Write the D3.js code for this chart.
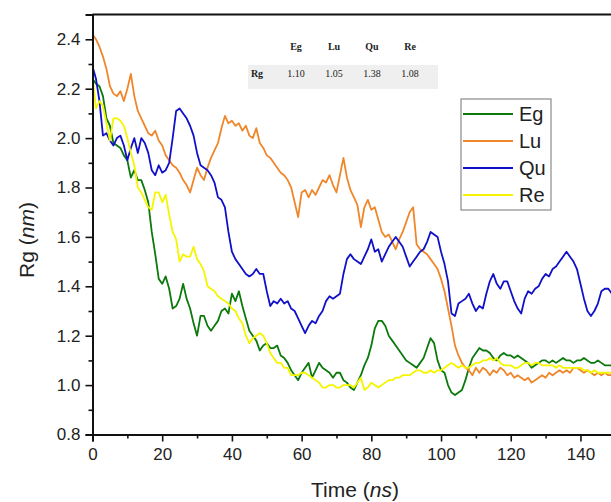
<!DOCTYPE html>
<html><head><meta charset="utf-8">
<script src="https://cdn.jsdelivr.net/npm/d3@7/dist/d3.min.js"></script>
<style>body{margin:0;background:#fff}svg{display:block}</style>
</head><body><svg id="c" width="611" height="502"></svg>
<script>
const seriesNames = ["Eg", "Lu", "Qu", "Re"];
const seriesColors = ["#0b790b", "#f0862a", "#1010c8", "#f5f500"];
const timeNs = d3.range(0, 151, 1);
const eg = [2.24,2.22,2.21,2.17,2.08,2.05,1.98,1.97,1.96,1.93,1.91,1.84,1.87,1.83,1.83,1.79,1.74,1.62,1.53,1.43,
1.41,1.44,1.39,1.31,1.32,1.35,1.41,1.35,1.31,1.25,1.20,1.28,1.28,1.24,1.22,1.24,1.26,1.30,1.31,1.29,
1.37,1.34,1.38,1.32,1.27,1.22,1.20,1.18,1.14,1.16,1.17,1.15,1.15,1.16,1.12,1.11,1.09,1.06,1.04,1.02,
1.05,1.07,1.09,1.03,1.06,1.09,1.07,1.06,1.05,1.03,1.05,1.05,1.02,1.01,0.99,0.98,1.01,1.04,1.08,1.11,
1.16,1.23,1.26,1.26,1.24,1.20,1.18,1.16,1.14,1.12,1.10,1.09,1.08,1.07,1.09,1.11,1.15,1.19,1.17,1.10,
1.06,1.05,1.00,0.97,0.96,0.97,0.98,1.02,1.07,1.11,1.13,1.15,1.14,1.14,1.13,1.11,1.10,1.12,1.13,1.12,
1.12,1.11,1.12,1.11,1.10,1.09,1.07,1.08,1.09,1.10,1.10,1.09,1.10,1.09,1.10,1.11,1.10,1.10,1.09,1.10,
1.10,1.11,1.10,1.09,1.09,1.10,1.09,1.08,1.08,1.08,1.07];
const lu = [2.42,2.40,2.37,2.33,2.28,2.21,2.18,2.17,2.19,2.15,2.20,2.26,2.17,2.11,2.08,2.05,2.02,2.01,2.03,1.99,
1.97,1.93,1.91,1.89,1.88,1.86,1.83,1.81,1.78,1.83,1.88,1.85,1.83,1.88,1.92,1.95,1.98,2.04,2.09,2.06,
2.07,2.05,2.06,2.03,2.05,2.01,2.00,2.04,1.98,1.96,1.93,1.92,1.90,1.88,1.86,1.85,1.83,1.80,1.74,1.68,
1.78,1.79,1.76,1.79,1.77,1.80,1.83,1.82,1.85,1.81,1.78,1.85,1.92,1.84,1.79,1.76,1.73,1.64,1.72,1.75,
1.71,1.72,1.67,1.62,1.60,1.61,1.58,1.55,1.59,1.62,1.66,1.70,1.72,1.57,1.55,1.54,1.53,1.51,1.49,1.47,
1.43,1.38,1.31,1.24,1.16,1.12,1.09,1.07,1.06,1.04,1.07,1.05,1.07,1.06,1.04,1.06,1.05,1.07,1.06,1.04,
1.05,1.03,1.04,1.03,1.02,1.03,1.01,1.02,1.03,1.04,1.03,1.05,1.04,1.05,1.06,1.05,1.06,1.05,1.07,1.07,
1.06,1.05,1.06,1.05,1.04,1.05,1.04,1.05,1.04,1.04,1.05];
const qu = [2.29,2.24,2.15,2.01,2.02,1.99,1.97,2.00,2.01,1.97,1.91,1.96,2.00,1.94,2.00,1.98,1.94,1.87,1.85,1.89,
1.86,1.87,1.90,2.00,2.11,2.12,2.10,2.08,2.05,2.01,1.94,1.89,1.88,1.87,1.85,1.82,1.76,1.75,1.72,1.62,
1.54,1.51,1.49,1.47,1.45,1.44,1.45,1.47,1.45,1.45,1.38,1.32,1.34,1.33,1.35,1.33,1.34,1.31,1.30,1.27,
1.24,1.21,1.24,1.26,1.25,1.28,1.30,1.34,1.36,1.35,1.36,1.37,1.45,1.51,1.53,1.51,1.50,1.49,1.52,1.55,
1.59,1.54,1.55,1.50,1.53,1.56,1.58,1.60,1.58,1.56,1.52,1.48,1.50,1.52,1.54,1.55,1.58,1.62,1.61,1.60,
1.54,1.49,1.42,1.29,1.28,1.33,1.34,1.35,1.37,1.33,1.30,1.32,1.31,1.37,1.42,1.45,1.41,1.39,1.42,1.42,
1.38,1.34,1.31,1.29,1.35,1.38,1.37,1.39,1.40,1.43,1.45,1.44,1.47,1.48,1.50,1.52,1.54,1.52,1.50,1.47,
1.41,1.35,1.30,1.28,1.30,1.33,1.38,1.39,1.39,1.37,1.36];
const re = [2.25,2.12,2.15,2.13,2.06,1.99,2.08,2.08,2.07,2.05,2.00,1.94,1.89,1.80,1.78,1.75,1.72,1.71,1.78,1.78,
1.74,1.77,1.69,1.62,1.59,1.50,1.53,1.52,1.52,1.56,1.51,1.49,1.46,1.40,1.39,1.38,1.36,1.35,1.34,1.33,
1.31,1.30,1.27,1.25,1.20,1.17,1.19,1.20,1.21,1.20,1.17,1.13,1.11,1.09,1.09,1.07,1.07,1.04,1.04,1.04,
1.05,1.05,1.04,1.03,1.02,1.01,0.99,0.99,1.00,1.00,0.99,0.99,1.00,1.00,1.00,0.99,1.01,1.03,0.98,0.99,
1.01,1.00,0.99,1.00,1.01,1.02,1.02,1.03,1.03,1.04,1.04,1.04,1.05,1.06,1.06,1.05,1.05,1.06,1.05,1.06,
1.06,1.07,1.08,1.09,1.08,1.07,1.08,1.07,1.07,1.08,1.09,1.09,1.10,1.10,1.11,1.10,1.11,1.09,1.08,1.08,
1.08,1.07,1.07,1.08,1.09,1.09,1.08,1.09,1.09,1.08,1.08,1.08,1.08,1.07,1.08,1.07,1.07,1.07,1.07,1.07,
1.07,1.06,1.06,1.05,1.06,1.05,1.05,1.05,1.05,1.05,1.04];
const seriesValues = [eg, lu, qu, re];
const xTicks = [0, 20, 40, 60, 80, 100, 120, 140];
const xMinorTicks = [10, 30, 50, 70, 90, 110, 130, 150];
const yTicks = [0.8, 1.0, 1.2, 1.4, 1.6, 1.8, 2.0, 2.2, 2.4];
const yMinorTicks = [0.9, 1.1, 1.3, 1.5, 1.7, 1.9, 2.1, 2.3];
const tableHeaders = ["Eg", "Lu", "Qu", "Re"];
const tableRowLabel = "Rg";
const tableValues = ["1.10", "1.05", "1.38", "1.08"];

const svg = d3.select("#c");
const x = d3.scaleLinear().domain([0, 150]).range([92.5, 615.3]);
const y = d3.scaleLinear().domain([0.8, 2.5]).range([434.5, 14.6]);

svg.append("defs").append("clipPath").attr("id", "plot")
  .append("rect").attr("x", 92.5).attr("y", 14.6).attr("width", 530).attr("height", 420);

// table
const tg = svg.append("g").attr("font-family", "'Liberation Serif','Times New Roman',serif").attr("font-size", 10).attr("fill", "#222");
tg.append("rect").attr("x", 248).attr("y", 65).attr("width", 190).attr("height", 24).attr("fill", "#efefef");
const tx = d3.scalePoint().domain(tableHeaders).range([296, 410]);
tg.selectAll("text.h").data(tableHeaders).join("text").attr("class", "h")
  .attr("x", d => tx(d)).attr("y", 50).attr("text-anchor", "middle").attr("font-weight", "bold").text(d => d);
tg.append("text").attr("x", 257).attr("y", 77).attr("text-anchor", "middle").attr("font-weight", "bold").text(tableRowLabel);
tg.selectAll("text.v").data(tableValues).join("text").attr("class", "v")
  .attr("x", (d, i) => tx(tableHeaders[i])).attr("y", 77).attr("text-anchor", "middle").text(d => d);

// lines
const line = d3.line().x((d, i) => x(timeNs[i])).y(d => y(d));
svg.append("g").attr("clip-path", "url(#plot)")
  .selectAll("path").data(seriesValues).join("path")
  .attr("d", d => line(d)).attr("fill", "none")
  .attr("stroke", (d, i) => seriesColors[i]).attr("stroke-width", 1.8).attr("stroke-linejoin", "round");

// axes
const fontAx = "'Liberation Sans',Arial,sans-serif";
const yAxis = svg.append("g").attr("transform", "translate(92.5,0)")
  .call(d3.axisLeft(y).tickValues(yTicks).tickFormat(d3.format(".1f")).tickSize(7).tickPadding(5));
const yMinor = svg.append("g").attr("transform", "translate(92.5,0)")
  .call(d3.axisLeft(y).tickValues(yMinorTicks).tickFormat("").tickSize(4));
const xAxis = svg.append("g").attr("transform", "translate(0,434.5)")
  .call(d3.axisBottom(x).tickValues(xTicks).tickSize(7).tickPadding(6));
const xMinor = svg.append("g").attr("transform", "translate(0,434.5)")
  .call(d3.axisBottom(x).tickValues(xMinorTicks).tickFormat("").tickSize(4));
[yAxis, yMinor, xAxis, xMinor].forEach(g => {
  g.selectAll(".domain").attr("stroke", "#111").attr("stroke-width", 2);
  g.selectAll(".tick line").attr("stroke", "#111").attr("stroke-width", 1.6);
  g.selectAll("text").attr("font-family", fontAx).attr("font-size", 17).attr("fill", "#222");
});
yMinor.select(".domain").remove();
xMinor.select(".domain").remove();
// top border
svg.append("line").attr("x1", x(0)).attr("x2", x(150)).attr("y1", y(2.5)).attr("y2", y(2.5))
  .attr("stroke", "#111").attr("stroke-width", 2);

// axis titles
const yt = svg.append("text").attr("transform", "translate(34,240) rotate(-90)")
  .attr("text-anchor", "middle").attr("font-family", fontAx).attr("font-size", 21).attr("fill", "#222");
yt.append("tspan").text("Rg (");
yt.append("tspan").attr("font-style", "italic").text("nm");
yt.append("tspan").text(")");
const xt = svg.append("text").attr("x", 355).attr("y", 497)
  .attr("text-anchor", "middle").attr("font-family", fontAx).attr("font-size", 21).attr("fill", "#222");
xt.append("tspan").text("Time (");
xt.append("tspan").attr("font-style", "italic").text("ns");
xt.append("tspan").text(")");

// legend
const lg = svg.append("g");
lg.append("rect").attr("x", 461).attr("y", 99).attr("width", 90).attr("height", 111)
  .attr("fill", "#fff").attr("stroke", "#8a8a8a").attr("stroke-width", 1.2);
const ly = d3.scalePoint().domain(seriesNames).range([114, 195]);
lg.selectAll("line").data(seriesNames).join("line")
  .attr("x1", 463).attr("x2", 513).attr("y1", d => ly(d)).attr("y2", d => ly(d))
  .attr("stroke", (d, i) => seriesColors[i]).attr("stroke-width", 1.8);
lg.selectAll("text").data(seriesNames).join("text")
  .attr("x", 519).attr("y", d => ly(d) + 7).attr("font-family", fontAx).attr("font-size", 20).attr("fill", "#222")
  .text(d => d);
</script></body></html>
